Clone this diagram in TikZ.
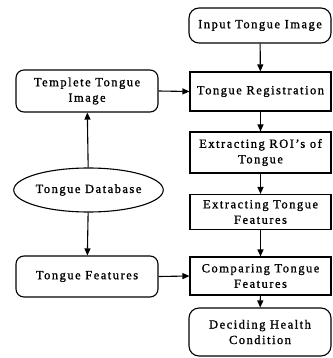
\documentclass[tikz,border=0pt]{standalone}
\usepackage{fontspec}
\setmainfont{Liberation Serif}[LetterSpace=12,FakeBold=1.2]
\usetikzlibrary{arrows.meta,shapes.geometric}
\begin{document}
\begin{tikzpicture}[x=1pt,y=-1pt,
  base/.style={draw,line width=1.1pt,align=center,inner sep=0pt,font=\fontsize{12.5}{15.5}\selectfont},
  rbox/.style={base,rounded corners=10pt},
  sbox/.style={base},
  ebox/.style={base,ellipse},
  arr/.style={-{Triangle[length=7pt,width=6pt]},line width=1.1pt}]
\useasboundingbox (0,0) rectangle (332,358);
% right column
\node[rbox,minimum width=142pt,minimum height=35pt] (input) at (260,25.5) {Input Tongue Image};
\node[sbox,minimum width=141pt,minimum height=39pt] (reg) at (260.5,91.5) {Tongue Registration};
\node[sbox,minimum width=141pt,minimum height=41pt] (roi) at (260.5,152.5) {Extracting ROI's of\\Tongue};
\node[sbox,minimum width=141pt,minimum height=35pt] (ext) at (260.5,212) {Extracting Tongue\\Features};
\node[sbox,minimum width=141pt,minimum height=38pt] (cmp) at (260.5,276) {Comparing Tongue\\Features};
\node[rbox,minimum width=142pt,minimum height=48pt] (dec) at (260,332) {Deciding Health\\Condition};
% left column
\node[rbox,rounded corners=8pt,minimum width=142pt,minimum height=42pt] (tpl) at (87,91) {Templete Tongue\\Image};
\node[ebox,minimum width=147pt,minimum height=44pt] (db) at (88.5,190) {Tongue Database};
\node[rbox,rounded corners=8pt,minimum width=142pt,minimum height=41pt] (tf) at (87,276.5) {Tongue Features};
% arrows
\draw[arr] (input) -- (reg);
\draw[arr] (reg) -- (roi);
\draw[arr] (roi) -- (ext);
\draw[arr] (ext) -- (cmp);
\draw[arr] (cmp) -- (dec);
\draw[arr] (db) -- (tpl);
\draw[arr] (db) -- (tf);
\draw[arr] (tpl.east) -- (reg.west);
\draw[arr] (tf.east) -- (cmp.west);
\end{tikzpicture}
\end{document}
